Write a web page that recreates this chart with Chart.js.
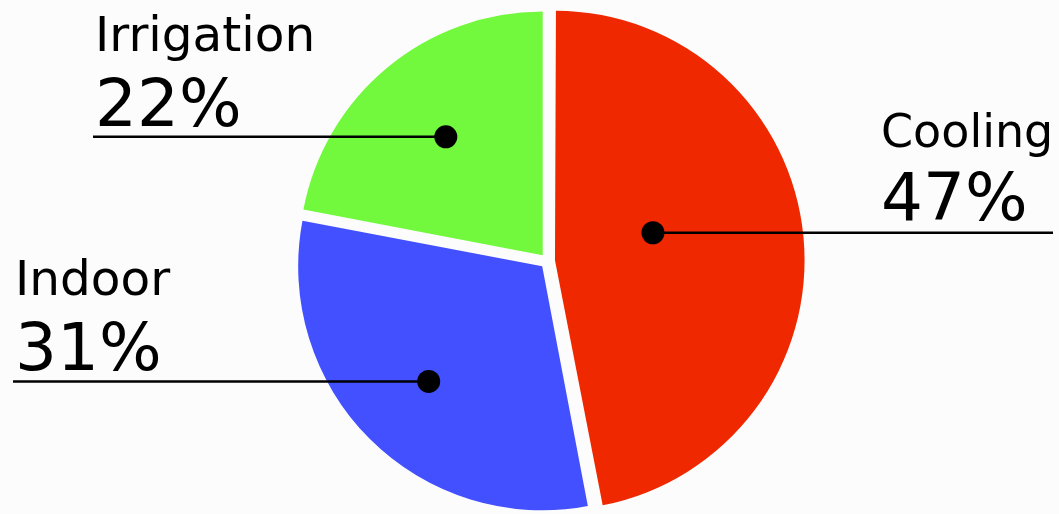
<!DOCTYPE html>
<html>
<head>
<meta charset="utf-8">
<script src="https://cdn.jsdelivr.net/npm/chart.js@4/dist/chart.umd.min.js"></script>
<style>
  html, body { margin: 0; padding: 0; background: #fcfcfc; }
  #wrap { width: 1059px; height: 514px; }
</style>
</head>
<body>
<div id="wrap"><canvas id="c" width="1059" height="514"></canvas></div>
<script>
const categories = ['Cooling', 'Indoor', 'Irrigation'];
const shares = [47, 31, 22];
const percentLabels = ['47%', '31%', '22%'];
const sliceColors = ['#f02800', '#4350ff', '#72f83c'];

// label placement (styling only)
const labelLayout = [
  { angleShift: -9.6, radiusFrac: 0.442, lineEnd: 1053, textX: 881, nameSize: 46, pctGap: 13 },
  { angleShift: -0.4, radiusFrac: 0.685, lineEnd: 13,   textX: 15,  nameSize: 48.5, pctGap: 11.5 },
  { angleShift: 0.3,  radiusFrac: 0.65,  lineEnd: 93,   textX: 95,  nameSize: 48.5, pctGap: 11 }
];

const leaderLabels = {
  id: 'leaderLabels',
  afterDatasetsDraw(chart) {
    const ctx = chart.ctx;
    const meta = chart.getDatasetMeta(0);
    meta.data.forEach((arc, i) => {
      const lay = labelLayout[i];
      const mid = (arc.startAngle + arc.endAngle) / 2 + lay.angleShift * Math.PI / 180;
      const r = 247 * lay.radiusFrac;
      const px = arc.x + Math.cos(mid) * r;
      const py = arc.y + Math.sin(mid) * r;
      ctx.save();
      ctx.strokeStyle = '#000';
      ctx.lineWidth = 2.5;
      ctx.beginPath();
      ctx.moveTo(px, py);
      ctx.lineTo(lay.lineEnd, py);
      ctx.stroke();
      ctx.fillStyle = '#000';
      ctx.beginPath();
      ctx.arc(px, py, 11.5, 0, Math.PI * 2);
      ctx.fill();
      ctx.textAlign = 'left';
      ctx.textBaseline = 'alphabetic';
      ctx.font = lay.nameSize + 'px "DejaVu Sans"';
      ctx.fillText(categories[i], lay.textX, py - 86);
      ctx.font = '66px "DejaVu Sans"';
      ctx.fillText(percentLabels[i], lay.textX, py - lay.pctGap);
      ctx.restore();
    });
  }
};

new Chart(document.getElementById('c'), {
  type: 'pie',
  data: {
    labels: categories,
    datasets: [{
      data: shares,
      backgroundColor: sliceColors,
      borderColor: sliceColors,
      borderWidth: 0,
      offset: 30,
      hoverOffset: 0
    }]
  },
  options: {
    responsive: false,
    animation: false,
    devicePixelRatio: 1,
    events: [],
    radius: 243.5,
    layout: { padding: { left: 297.5, right: 261.5, top: 11, bottom: 3 } },
    plugins: {
      legend: { display: false },
      tooltip: { enabled: false }
    }
  },
  plugins: [leaderLabels]
});
</script>
</body>
</html>
